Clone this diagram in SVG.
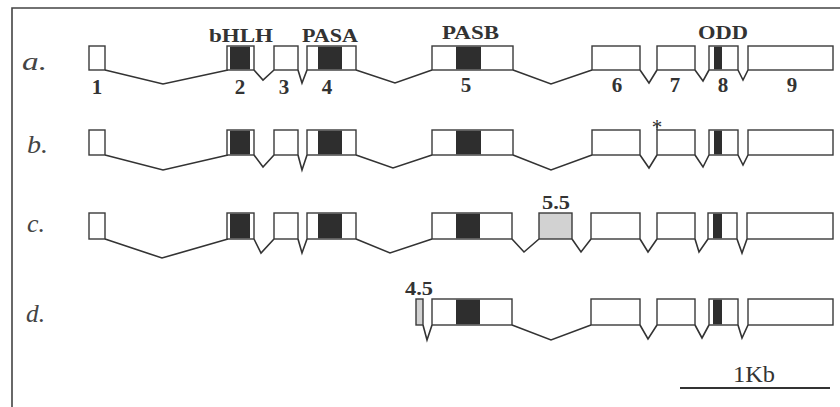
<svg xmlns="http://www.w3.org/2000/svg" width="840" height="407" viewBox="0 0 840 407">
<style>
.bg{fill:#fff}
.frame{fill:none;stroke:#444;stroke-width:1.6}
.exon{fill:#fff;stroke:#3a3a3a;stroke-width:1.4}
.dom{fill:#2e2e2e}
.alt{fill:#d2d2d2;stroke:#3a3a3a;stroke-width:1.4}
.intron{fill:none;stroke:#333;stroke-width:1.6;stroke-linejoin:miter}
.lbl{font-family:"Liberation Serif","Times New Roman",Times,serif;font-weight:bold;font-size:19px;fill:#333}
.num{font-family:"Liberation Serif","Times New Roman",Times,serif;font-weight:bold;font-size:21px;fill:#333;text-anchor:middle}
.row{font-family:"Liberation Serif","Times New Roman",Times,serif;font-style:italic;font-size:25px;fill:#444}
.scale{font-family:"Liberation Serif","Times New Roman",Times,serif;font-size:23px;fill:#333}
</style>
<rect class="bg" x="0" y="0" width="840" height="407"/>
<path class="frame" d="M12,407 V8 H840"/>

<!-- Row labels -->
<g id="row-labels">
<text class="row" x="22" y="70" textLength="25" lengthAdjust="spacingAndGlyphs">a.</text>
<text class="row" x="27" y="153" textLength="21" lengthAdjust="spacingAndGlyphs">b.</text>
<text class="row" x="27" y="232" textLength="18" lengthAdjust="spacingAndGlyphs">c.</text>
<text class="row" x="26" y="322" textLength="19" lengthAdjust="spacingAndGlyphs">d.</text>
</g>

<!-- Domain labels -->
<g id="domain-labels">
<text class="lbl" x="209" y="42" textLength="64" lengthAdjust="spacingAndGlyphs">bHLH</text>
<text class="lbl" x="302" y="42" textLength="56" lengthAdjust="spacingAndGlyphs">PASA</text>
<text class="lbl" x="442" y="39" textLength="57" lengthAdjust="spacingAndGlyphs">PASB</text>
<text class="lbl" x="698" y="39" textLength="50" lengthAdjust="spacingAndGlyphs">ODD</text>
</g>

<!-- Exon numbers -->
<g id="exon-numbers">
<text class="num" x="97" y="94">1</text>
<text class="num" x="240" y="94">2</text>
<text class="num" x="284" y="94">3</text>
<text class="num" x="327" y="94">4</text>
<text class="num" x="466" y="92">5</text>
<text class="num" x="617" y="92">6</text>
<text class="num" x="675" y="92">7</text>
<text class="num" x="723" y="92">8</text>
<text class="num" x="792" y="92">9</text>
</g>

<!-- Connectors (introns) -->
<g id="connectors">
<!-- row a -->
<polyline class="intron" points="105,70 163,84 228,70"/>
<polyline class="intron" points="254,70 263,80 274,70"/>
<polyline class="intron" points="298,70 302,83 307,70"/>
<polyline class="intron" points="356,70 395,83 432,70"/>
<polyline class="intron" points="513,70 551,84 592,70"/>
<polyline class="intron" points="640,70 649,83 657,70"/>
<polyline class="intron" points="695,70 703,81 709,70"/>
<polyline class="intron" points="738,70 743,80 748,70"/>
<!-- row b -->
<polyline class="intron" points="105,155 163,170 228,155"/>
<polyline class="intron" points="254,155 263,167 274,155"/>
<polyline class="intron" points="298,155 302,170 307,155"/>
<polyline class="intron" points="356,155 393,168 432,155"/>
<polyline class="intron" points="513,155 551,170 592,155"/>
<polyline class="intron" points="640,155 649,168 657,155"/>
<polyline class="intron" points="695,155 703,167 709,155"/>
<polyline class="intron" points="738,155 743,165 748,155"/>
<!-- row c -->
<polyline class="intron" points="105,239 162,258 228,239"/>
<polyline class="intron" points="254,239 261,253 274,239"/>
<polyline class="intron" points="298,239 302,253 307,239"/>
<polyline class="intron" points="356,239 390,253 432,239"/>
<polyline class="intron" points="512,239 524,252 539,239"/>
<polyline class="intron" points="572,239 581,252 591,239"/>
<polyline class="intron" points="640,239 648,252 657,239"/>
<polyline class="intron" points="695,239 699,252 708,239"/>
<polyline class="intron" points="737,239 742,253 747,239"/>
<!-- row d -->
<polyline class="intron" points="423,325 427,340 432,325"/>
<polyline class="intron" points="512,325 551,340 591,325"/>
<polyline class="intron" points="640,325 648,339 657,325"/>
<polyline class="intron" points="695,325 702,338 709,325"/>
<polyline class="intron" points="738,325 742,338 748,325"/>
</g>

<!-- Row a exons -->
<g id="a-ex1"><rect class="exon" x="89" y="46" width="16" height="24"/></g>
<g id="a-ex2"><rect class="exon" x="227" y="46" width="27" height="24"/><rect class="dom" x="230" y="46.7" width="20" height="22.6"/></g>
<g id="a-ex3"><rect class="exon" x="274" y="46" width="24" height="24"/></g>
<g id="a-ex4"><rect class="exon" x="307" y="46" width="49" height="24"/><rect class="dom" x="318" y="46.7" width="24" height="22.6"/></g>
<g id="a-ex5"><rect class="exon" x="432" y="46" width="81" height="24"/><rect class="dom" x="456" y="46.7" width="25" height="22.6"/></g>
<g id="a-ex6"><rect class="exon" x="592" y="46" width="48" height="24"/></g>
<g id="a-ex7"><rect class="exon" x="657" y="46" width="38" height="24"/></g>
<g id="a-ex8"><rect class="exon" x="709" y="46" width="29" height="24"/><rect class="dom" x="714" y="46.7" width="8" height="22.6"/></g>
<g id="a-ex9"><rect class="exon" x="748" y="46" width="85" height="24"/></g>

<!-- Row b exons -->
<g id="b-ex1"><rect class="exon" x="89" y="130" width="16" height="25"/></g>
<g id="b-ex2"><rect class="exon" x="227" y="130" width="27" height="25"/><rect class="dom" x="230" y="130.7" width="20" height="23.6"/></g>
<g id="b-ex3"><rect class="exon" x="274" y="130" width="24" height="25"/></g>
<g id="b-ex4"><rect class="exon" x="307" y="130" width="49" height="25"/><rect class="dom" x="318" y="130.7" width="24" height="23.6"/></g>
<g id="b-ex5"><rect class="exon" x="432" y="130" width="81" height="25"/><rect class="dom" x="456" y="130.7" width="25" height="23.6"/></g>
<g id="b-ex6"><rect class="exon" x="592" y="130" width="48" height="25"/></g>
<g id="b-ex7"><rect class="exon" x="657" y="130" width="38" height="25"/><line x1="657" y1="124" x2="657" y2="130" stroke="#3a3a3a" stroke-width="1.4"/><text x="657" y="134" text-anchor="middle" font-family="Liberation Serif, Times New Roman, serif" font-size="21" fill="#333">*</text></g>
<g id="b-ex8"><rect class="exon" x="709" y="130" width="29" height="25"/><rect class="dom" x="714" y="130.7" width="8" height="23.6"/></g>
<g id="b-ex9"><rect class="exon" x="748" y="130" width="85" height="25"/></g>

<!-- Row c exons -->
<g id="c-ex1"><rect class="exon" x="89" y="213" width="16" height="26"/></g>
<g id="c-ex2"><rect class="exon" x="227" y="213" width="27" height="26"/><rect class="dom" x="230" y="213.7" width="20" height="24.6"/></g>
<g id="c-ex3"><rect class="exon" x="274" y="213" width="24" height="26"/></g>
<g id="c-ex4"><rect class="exon" x="307" y="213" width="49" height="26"/><rect class="dom" x="318" y="213.7" width="24" height="24.6"/></g>
<g id="c-ex5"><rect class="exon" x="432" y="213" width="80" height="26"/><rect class="dom" x="456" y="213.7" width="24" height="24.6"/></g>
<g id="c-ex5-5"><rect class="alt" x="539" y="213" width="33" height="26"/><text class="lbl" x="542" y="209" textLength="28" lengthAdjust="spacingAndGlyphs">5.5</text></g>
<g id="c-ex6"><rect class="exon" x="591" y="213" width="49" height="26"/></g>
<g id="c-ex7"><rect class="exon" x="657" y="213" width="38" height="26"/></g>
<g id="c-ex8"><rect class="exon" x="708" y="213" width="29" height="26"/><rect class="dom" x="713" y="213.7" width="9" height="24.6"/></g>
<g id="c-ex9"><rect class="exon" x="747" y="213" width="86" height="26"/></g>

<!-- Row d exons -->
<g id="d-ex4-5"><rect class="alt" x="416" y="299" width="7" height="26"/><text class="lbl" x="405" y="295" textLength="28" lengthAdjust="spacingAndGlyphs">4.5</text></g>
<g id="d-ex5"><rect class="exon" x="432" y="299" width="80" height="26"/><rect class="dom" x="456" y="299.7" width="24" height="24.6"/></g>
<g id="d-ex6"><rect class="exon" x="591" y="299" width="49" height="26"/></g>
<g id="d-ex7"><rect class="exon" x="657" y="299" width="38" height="26"/></g>
<g id="d-ex8"><rect class="exon" x="709" y="299" width="29" height="26"/><rect class="dom" x="713" y="299.7" width="9" height="24.6"/></g>
<g id="d-ex9"><rect class="exon" x="748" y="299" width="85" height="26"/></g>

<!-- Scale bar -->
<g id="scale-bar">
<line x1="680" y1="388" x2="830" y2="388" stroke="#333" stroke-width="2.2"/>
<text class="scale" x="733" y="382" textLength="42" lengthAdjust="spacingAndGlyphs">1Kb</text>
</g>
</svg>
